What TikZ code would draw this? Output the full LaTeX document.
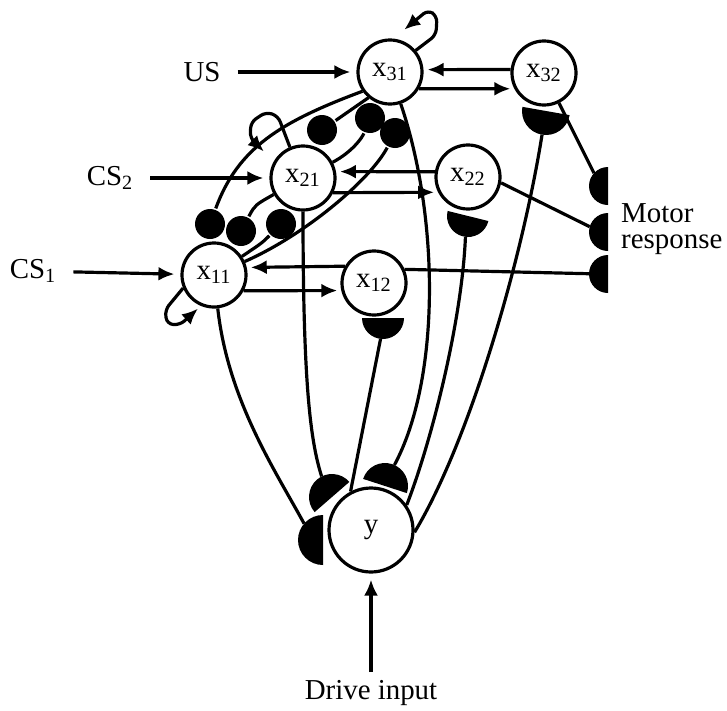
\documentclass[tikz,border=0pt]{standalone}
\usepackage{fontspec}
\setmainfont{Liberation Serif}
\usetikzlibrary{arrows.meta,shapes.geometric}
\tikzset{
    neuron/.style={circle,draw,fill=white,minimum size=32bp,inner sep=0pt},
    inhib/.style={circle,fill=black,minimum size=15bp,inner sep=0pt},
    modul/.style={semicircle,fill=black,inner sep=0pt,outer sep=0pt,minimum height=0pt,anchor=chord center},
    dedge/.style={->,> = {Latex[length=8bp,width=7bp]}},
    edge/.style={-,draw=black},
    input/.style={->,> = {Latex[length=8bp,width=7bp]}, shorten <=4.5bp, shorten >=3bp},
    loopy/.style={->,> = {Latex[length=8bp,width=7bp]}, rounded corners=3bp},
}

\begin{document}
\begin{tikzpicture}[x=0.5bp,y=0.5bp,line width=1.6pt,font=\fontsize{14.5}{17}\selectfont]
    \useasboundingbox (0,0) rectangle (727,-711);
    % neurons
    \node[neuron] (x31) at (390,-72) {x\textsubscript{31}};
    \node[neuron] (x32) at (544,-73) {x\textsubscript{32}};
    \node[neuron] (x21) at (303,-178) {x\textsubscript{21}};
    \node[neuron] (x22) at (468,-177) {x\textsubscript{22}};
    \node[neuron] (x11) at (214,-275) {x\textsubscript{11}};
    \node[neuron] (x12) at (374,-283) {x\textsubscript{12}};
    \node[neuron,minimum size=42bp] (y) at (371,-530) {y};
    % inputs and output
    \node (us) at (202,-72) {US};
    \node (cs2) at (110,-178) {CS\textsubscript{2}};
    \node (cs1) at (33,-271) {CS\textsubscript{1}};
    \node (drive) at (371,-693) {Drive input};
    \node[anchor=west,align=left,font=\fontsize{14.5}{13}\selectfont] (motor) at (613,-229) {Motor\\response};
    % inhibitory synapses
    \node[inhib] (i31to21) at (322,-130) {};
    \node[inhib] (i21to31) at (370,-118) {};
    \node[inhib] (i11to31) at (395,-133) {};
    \node[inhib] (i31to11) at (210,-224) {};
    \node[inhib] (i21to11) at (241,-231) {};
    \node[inhib] (i11to21) at (281,-224) {};
    % modulatory synapses
    \node[modul,minimum width=25bp,rotate=90] (m11y) at (323,-540) {};
    \node[modul,minimum width=23bp,rotate=41] (m21y) at (332,-497) {};
    \node[modul,minimum width=23bp,rotate=-18] (m31y) at (385,-486) {};
    \node[modul,minimum width=21bp,rotate=180] (my12) at (383,-318) {};
    \node[modul,minimum width=21bp,rotate=166] (my22) at (468,-216) {};
    \node[modul,minimum width=24bp,rotate=170] (my32) at (546,-111) {};
    \node[modul,minimum width=19bp,rotate=90] (mo32) at (608,-186) {};
    \node[modul,minimum width=19bp,rotate=90] (mo22) at (608,-232) {};
    \node[modul,minimum width=19bp,rotate=90] (mo12) at (608,-274) {};
    % input arrows
    \draw[input] (us) -- (x31);
    \draw[input] (cs2) -- (x21);
    \draw[input] (cs1) -- (x11);
    \draw[dedge, shorten >=3bp] (drive) -- (y);
    % lateral arrows
    \draw[dedge, shorten >=2bp] (x31.-30) -- (x32.208);
    \draw[dedge, shorten >=2bp] (x32.174) -- (x31.4);
    \draw[dedge, shorten >=2bp] (x21.-26) -- (x22.207);
    \draw[dedge, shorten >=2bp] (x22.171) -- (x21.11);
    \draw[dedge, shorten >=2bp] (x11.-28) -- (x12.193);
    \draw[dedge, shorten >=2bp] (x12.150) -- (x11.13);
    % self loops
    \draw[loopy, shorten >=7bp] (x31.40) -- (436,-35) -- (437,-16) -- (428,-10) -- (x31.84);
    \draw[loopy, shorten >=7bp] (x21.113) -- (278,-116) -- (266,-112) -- (251,-122) -- (250,-138) -- (x21.150);
    \draw[loopy, shorten >=2bp] (x11.203) -- (165,-310) -- (167,-324) -- (180,-325) -- (x11.247);
    % inhibitory links
    \draw[edge] (x31.230) -- (i31to21);
    \draw[edge] (x21) .. controls (352,-152) and (362,-138) .. (i21to31);
    \draw[edge] (x11) .. controls (305,-235) and (370,-180) .. (i11to31);
    \draw[edge] (x31.215) .. controls (280,-122) and (238,-148) .. (i31to11);
    \draw[edge] (x21) .. controls (255,-205) .. (i21to11);
    \draw[edge] (x11) .. controls (262,-243) .. (i11to21);
    % modulatory links
    \draw[edge] (x11) .. controls (228,-400) and (275,-470) .. (m11y);
    \draw[edge] (x21) .. controls (303,-380) and (310,-440) .. (m21y);
    \draw[edge] (x31) .. controls (440,-220) and (440,-380) .. (m31y);
    \draw[edge] (y.118) -- (my12);
    \draw[edge] (y.35) .. controls (432,-440) and (462,-320) .. (my22);
    \draw[edge] (y.-3) .. controls (470,-440) and (522,-260) .. (my32);
    % motor response
    \draw[edge] (x32) -- (mo32);
    \draw[edge] (x22.-10) -- (mo22);
    \draw[edge] (x12.24) -- (mo12);
\end{tikzpicture}
\end{document}
